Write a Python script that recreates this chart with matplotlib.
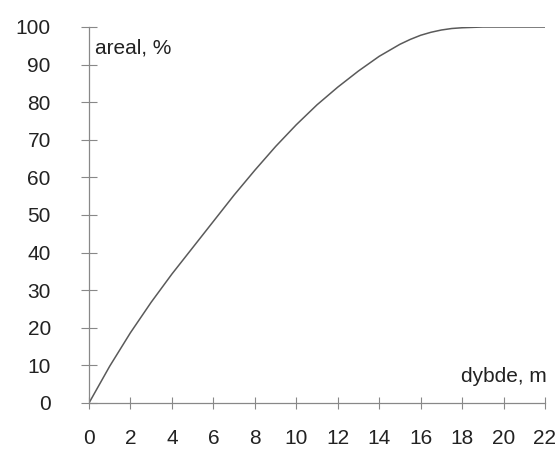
import numpy as np
import matplotlib.pyplot as plt

plt.rcParams['font.family'] = ['Liberation Sans', 'DejaVu Sans']

# depth (m) and area (%)
dybde = [0, 1, 2, 3, 4, 5, 6, 7, 8, 9, 10, 11, 12, 13, 14, 15, 15.5, 16, 16.5, 17, 17.5, 18, 19, 20, 22]
areal = [0, 9.8, 18.7, 26.8, 34.3, 41.3, 48.3, 55.3, 61.9, 68.2, 74.0, 79.3,
         84.0, 88.3, 92.2, 95.4, 96.7, 97.8, 98.6, 99.2, 99.6, 99.8, 100, 100, 100]

xticks = list(range(0, 23, 2))
yticks = list(range(0, 101, 10))

fig = plt.figure(figsize=(5.59, 4.49), dpi=100)
ax = fig.add_axes([89/559, 46/449, 456/559, 376/449])

ax.plot(dybde, areal, color='#5a5a5a', lw=1.1)

ax.set_xlim(0, 22)
ax.set_ylim(0, 100)
ax.set_xticks(xticks)
ax.set_yticks(yticks)

for s in ['top', 'right']:
    ax.spines[s].set_visible(False)
for s in ['left', 'bottom']:
    ax.spines[s].set_color('#888888')
    ax.spines[s].set_linewidth(0.9)

ax.tick_params(axis='x', direction='inout', length=8, width=0.8, color='#888888',
               pad=15, labelsize=15, labelcolor='#222222')
ax.tick_params(axis='y', direction='inout', length=11, width=0.8, color='#888888',
               pad=22, labelsize=15, labelcolor='#222222')

ax.text(0.3, 93, 'areal, %', fontsize=15, color='#222222', ha='left', va='baseline')
ax.text(22.1, 5.7, 'dybde, m', fontsize=15, color='#222222', ha='right', va='baseline')

plt.savefig('out.png', dpi=100)
plt.close()
